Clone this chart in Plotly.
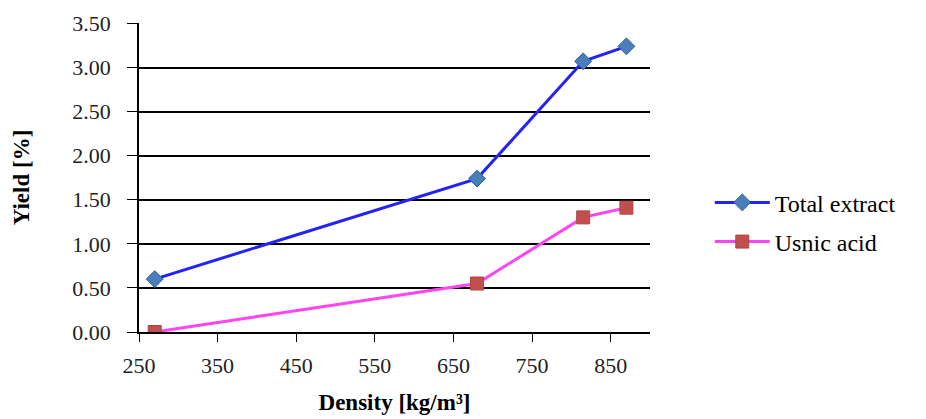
import plotly.graph_objects as go

density = [270, 680, 815, 870]
total_extract = [0.60, 1.74, 3.07, 3.24]
usnic_acid = [0.00, 0.55, 1.30, 1.41]
x_ticks = [250, 350, 450, 550, 650, 750, 850]
y_ticks = [0.0, 0.5, 1.0, 1.5, 2.0, 2.5, 3.0, 3.5]
y_tick_labels = ["0.00", "0.50", "1.00", "1.50", "2.00", "2.50", "3.00", "3.50"]

font_family = "Liberation Serif"

fig = go.Figure()
fig.add_trace(go.Scatter(
    x=density, y=total_extract, name="Total extract", mode="lines+markers",
    legendgroup="a",
    line=dict(color="#2323F5", width=3),
    marker=dict(symbol="diamond", size=13, color="#4A7EBB", line=dict(color="#2F5F95", width=1)),
))
fig.add_trace(go.Scatter(
    x=density, y=usnic_acid, name="Usnic acid", mode="lines+markers",
    legendgroup="b",
    line=dict(color="#FF44F0", width=3),
    marker=dict(symbol="square", size=13, color="#C0504D", line=dict(color="#B04542", width=1)),
))

fig.update_layout(
    width=918, height=411,
    margin=dict(l=131, r=276, t=15, b=87, autoexpand=False),
    paper_bgcolor="white", plot_bgcolor="white",
    font=dict(family=font_family, color="black", size=22),
    showlegend=True,
    legend=dict(x=1.117, y=0.355, xanchor="left", yanchor="middle",
                font=dict(family=font_family, size=24, color="black"),
                itemwidth=55, tracegroupgap=5, bgcolor="rgba(0,0,0,0)"),
    xaxis=dict(
        range=[250, 900], tickmode="array", tickvals=x_ticks,
        ticktext=[str(v) for v in x_ticks],
        showgrid=False, zeroline=False, showline=True, linecolor="black", linewidth=1.5,
        ticks="outside", ticklen=8, tickcolor="black", tickwidth=1,
        ticklabelstandoff=5, automargin=False,
        tickfont=dict(family=font_family, size=22, color="#222"),
        title=dict(text="<b>Density [kg/m³]</b>", standoff=17,
                   font=dict(family=font_family, size=23, color="black")),
    ),
    yaxis=dict(
        range=[0, 3.505], tickmode="array", tickvals=y_ticks, ticktext=y_tick_labels,
        showgrid=True, gridcolor="black", gridwidth=1.5,
        zeroline=False, showline=True, linecolor="black", linewidth=1.5,
        ticks="outside", ticklen=10, tickcolor="black", tickwidth=1,
        ticklabelstandoff=12, automargin=False,
        tickfont=dict(family=font_family, size=22, color="#222"),
        title=dict(text="<b>Yield [%]</b>", standoff=36,
                   font=dict(family=font_family, size=23, color="black")),
    ),
)

fig.write_html("out.html")
